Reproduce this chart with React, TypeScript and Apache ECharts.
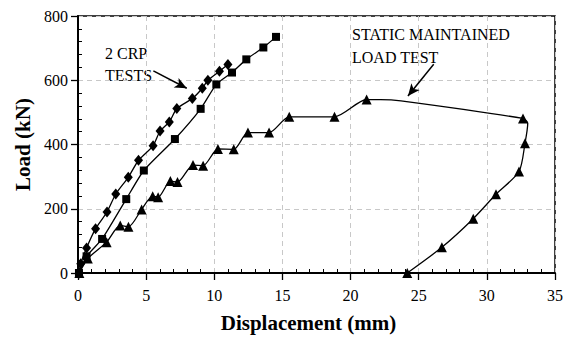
import React, { useEffect, useRef } from "react";
import * as echarts from "echarts";

// CRP test 1 (diamonds)
const crp1X = [0.1, 0.2, 0.63, 1.29, 2.13, 2.77, 3.69, 4.44, 5.51, 6.02, 6.7, 7.25, 8.39, 9.12, 9.53, 10.38, 11.0];
const crp1Y = [0, 29, 78, 138, 190, 246, 298, 351, 396, 442, 470, 512, 543, 575, 600, 628, 649];

// CRP test 2 (squares)
const crp2X = [0.07, 0.63, 1.77, 3.54, 4.83, 7.11, 9.0, 10.15, 11.3, 12.35, 13.6, 14.53];
const crp2Y = [0, 52, 106, 230, 319, 417, 511, 587, 624, 665, 702, 735];

// Static maintained load test (triangles); marked = reading taken
const staticX = [0.1, 0.72, 2.1, 3.1, 3.7, 4.67, 5.48, 5.88, 6.78, 7.3, 8.44, 9.18, 10.27, 11.43, 12.47, 14.02, 15.5, 18.82, 21.18, 22.2, 23.7, 32.65, 33.0, 32.8, 32.36, 30.67, 29.0, 26.7, 24.16];
const staticY = [0, 45, 96, 148, 144, 198, 239, 236, 286, 283, 336, 334, 386, 385, 437, 437, 486, 486, 540, 540, 536, 481, 466, 404, 316, 245, 169, 80, 0];
const staticMarked = [1, 1, 1, 1, 1, 1, 1, 1, 1, 1, 1, 1, 1, 1, 1, 1, 1, 1, 1, 0, 0, 1, 0, 1, 1, 1, 1, 1, 1];

// Annotation arrows (data coords: from -> to)
const arrowCrp = [[5.53, 629], [7.98, 575]];
const arrowStatic = [[26.1, 650], [24.21, 551]];

const xTicks = { min: 0, max: 35, interval: 5 };
const yTicks = { min: 0, max: 800, interval: 200 };

const FONT = "Liberation Serif";

export default function App() {
  const ref = useRef<HTMLDivElement>(null);
  useEffect(() => {
    if (!ref.current) return;
    const chart = echarts.init(ref.current, undefined, { renderer: "svg" });
    const pairs = (xs: number[], ys: number[]) => xs.map((x, i) => [x, ys[i]]);
    const lineStyle = { color: "#000", width: 1.3 };
    chart.setOption({
      animation: false,
      backgroundColor: "#fff",
      textStyle: { fontFamily: FONT },
      grid: { left: 78, right: 7, top: 16, bottom: 68, show: true, borderColor: "#000", borderWidth: 1.5, backgroundColor: "transparent" },
      xAxis: {
        type: "value",
        ...xTicks,
        name: "Displacement (mm)",
        nameLocation: "middle",
        nameGap: 39,
        nameTextStyle: { fontFamily: FONT, fontSize: 21, fontWeight: "bold", color: "#000", padding: [0, 16, 0, 0] },
        axisLine: { lineStyle: { color: "#000", width: 2 } },
        axisTick: { inside: false, length: 7, lineStyle: { color: "#000", width: 1.3 } },
        minorTick: { show: true, splitNumber: 5, length: -4, lineStyle: { color: "#000", width: 1 } },
        axisLabel: { fontFamily: FONT, fontSize: 16, color: "#000", margin: 14 },
        splitLine: { show: true, lineStyle: { color: "#c8c8c8", type: [5, 4], width: 1 } },
      },
      yAxis: {
        type: "value",
        ...yTicks,
        name: "Load (kN)",
        nameLocation: "middle",
        nameGap: 35,
        nameTextStyle: { fontFamily: FONT, fontSize: 21, fontWeight: "bold", color: "#000" },
        axisLine: { lineStyle: { color: "#000", width: 2 } },
        axisTick: { inside: false, length: 7, lineStyle: { color: "#000", width: 1.3 } },
        minorTick: { show: true, splitNumber: 5, length: -4, lineStyle: { color: "#000", width: 1 } },
        axisLabel: { fontFamily: FONT, fontSize: 16, color: "#000", margin: 10 },
        splitLine: { show: true, lineStyle: { color: "#c8c8c8", type: [5, 4], width: 1 } },
      },
      series: [
        {
          type: "line",
          data: pairs(crp1X, crp1Y),
          symbol: "diamond",
          symbolSize: [9, 11],
          smooth: 0.2,
          itemStyle: { color: "#000" },
          lineStyle,
          markLine: {
            silent: true,
            symbol: ["none", "arrow"],
            symbolSize: [8, 12],
            label: { show: false },
            lineStyle: { color: "#000", width: 1.5, type: "solid" },
            data: [
              [{ coord: arrowCrp[0] }, { coord: arrowCrp[1] }],
              [{ coord: arrowStatic[0] }, { coord: arrowStatic[1] }],
            ],
          },
        },
        {
          type: "line",
          data: pairs(crp2X, crp2Y),
          symbol: "rect",
          symbolSize: 8,
          smooth: 0.2,
          itemStyle: { color: "#000" },
          lineStyle,
        },
        {
          type: "line",
          data: staticX.map((x, i) => ({
            value: [x, staticY[i]],
            symbol: staticMarked[i] ? "triangle" : "none",
          })),
          symbol: "triangle",
          symbolSize: 10,
          smooth: 0.25,
          itemStyle: { color: "#000" },
          lineStyle,
        },
      ],
      graphic: [
        {
          type: "text",
          left: 105,
          top: 42,
          style: { text: "2 CRP\nTESTS", fontFamily: FONT, fontSize: 16, lineHeight: 22, fill: "#000" },
        },
        {
          type: "text",
          left: 352,
          top: 23,
          style: { text: "STATIC MAINTAINED\nLOAD TEST", fontFamily: FONT, fontSize: 16, lineHeight: 23, fill: "#000" },
        },
      ],
    });
    return () => chart.dispose();
  }, []);
  return <div ref={ref} style={{ width: 566, height: 341, position: "absolute", left: 0, top: 0 }} />;
}
